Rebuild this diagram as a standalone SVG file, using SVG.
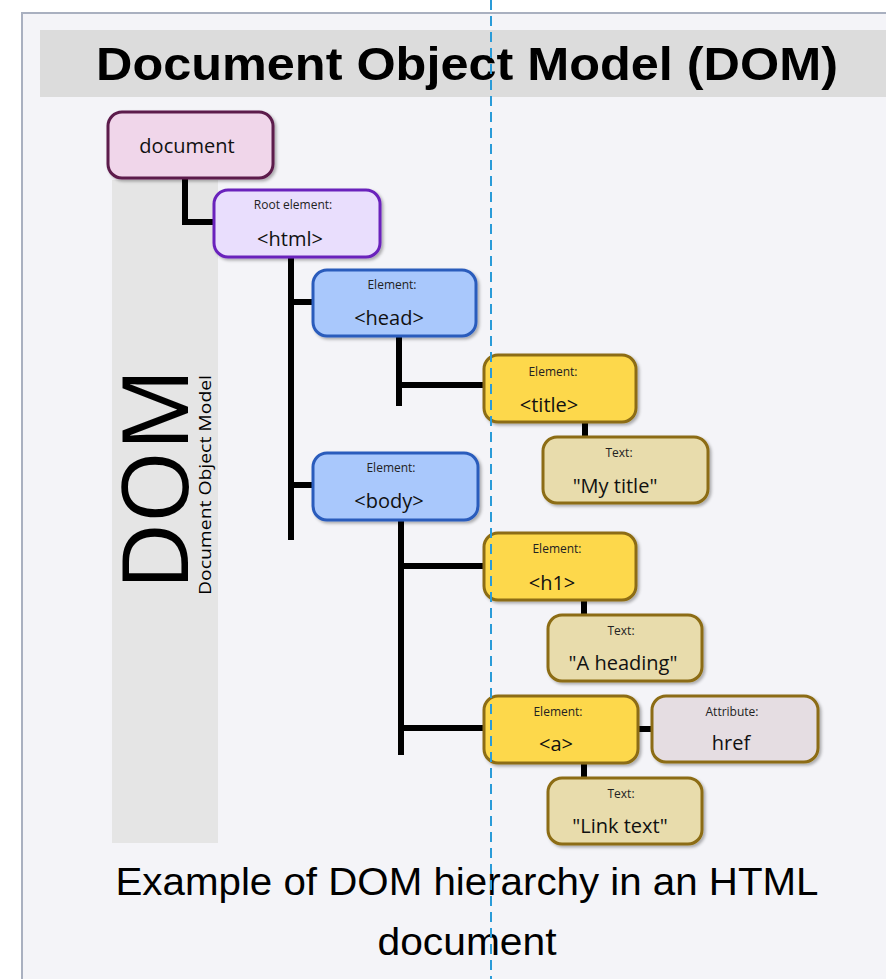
<svg xmlns="http://www.w3.org/2000/svg" width="886" height="979" viewBox="0 0 886 979">
  <defs>
    <filter id="shadow" x="-10%" y="-10%" width="130%" height="130%">
      <feDropShadow dx="2" dy="2" stdDeviation="1.5" flood-color="#000" flood-opacity="0.3"/>
    </filter>
  </defs>
  <style>
    .box { stroke-width: 3; filter: url(#shadow); }
    .doc { fill: #f0d6ea; stroke: #5c1a4c; }
    .root { fill: #e9defd; stroke: #6a24bc; }
    .el { fill: #a9c8fc; stroke: #2b5cbc; }
    .tag { fill: #fdd84c; stroke: #8c6c12; }
    .txt { fill: #e8dcac; stroke: #8c6c12; }
    .attr { fill: #e5dde2; stroke: #8c6c12; }
    .small { font-family: "Open Sans", "DejaVu Sans", sans-serif; font-size: 12px; fill: #222; text-anchor: middle; }
    .big { font-family: "Open Sans", "DejaVu Sans", sans-serif; font-size: 20px; fill: #111; text-anchor: middle; }
    .conn { stroke: #000; stroke-width: 6; fill: none; }
  </style>

  <!-- page background and panel -->
  <rect x="0" y="0" width="886" height="979" fill="#ffffff"/>
  <rect x="22" y="13" width="880" height="980" fill="#f4f4f8" stroke="#a9b0c0" stroke-width="2"/>

  <!-- title bar -->
  <rect x="40" y="30" width="860" height="67" fill="#dcdcdc"/>
  <text x="467" y="80" font-family="'Liberation Sans', Arial, sans-serif" font-weight="bold" font-size="46" text-anchor="middle" textLength="742" lengthAdjust="spacingAndGlyphs" fill="#000">Document Object Model (DOM)</text>

  <!-- vertical DOM label band -->
  <rect x="112" y="180" width="106" height="663" fill="#e5e5e5"/>
  <text transform="translate(188,479) rotate(-90)" font-family="'Open Sans', 'DejaVu Sans', sans-serif" font-size="92" text-anchor="middle" textLength="222" lengthAdjust="spacingAndGlyphs" fill="#000">DOM</text>
  <text transform="translate(211,485) rotate(-90)" font-family="'Open Sans', 'DejaVu Sans', sans-serif" font-size="16" text-anchor="middle" textLength="220" lengthAdjust="spacingAndGlyphs" fill="#000">Document Object Model</text>

  <!-- connectors -->
  <g id="connectors">
    <polyline class="conn" points="185,178 185,222 216,222"/>
    <line class="conn" x1="291" y1="257" x2="291" y2="540"/>
    <line class="conn" x1="288" y1="302" x2="315" y2="302"/>
    <line class="conn" x1="288" y1="485" x2="315" y2="485"/>
    <line class="conn" x1="399" y1="336" x2="399" y2="406"/>
    <line class="conn" x1="396" y1="385" x2="486" y2="385"/>
    <line class="conn" x1="401" y1="520" x2="401" y2="755"/>
    <line class="conn" x1="398" y1="566" x2="486" y2="566"/>
    <line class="conn" x1="398" y1="728" x2="486" y2="728"/>
    <line class="conn" x1="585" y1="422" x2="585" y2="439"/>
    <line class="conn" x1="584" y1="600" x2="584" y2="617"/>
    <line class="conn" x1="584" y1="763" x2="584" y2="780"/>
    <line class="conn" x1="638" y1="729" x2="654" y2="729"/>
  </g>

  <!-- nodes -->
  <g id="node-document">
    <rect class="box doc" x="108" y="112" width="165" height="66" rx="14"/>
    <text class="big" x="187" y="153" font-size="21">document</text>
  </g>
  <g id="node-html">
    <rect class="box root" x="214" y="190" width="166" height="67" rx="14"/>
    <text class="small" x="293" y="209">Root element:</text>
    <text class="big" x="290" y="246">&lt;html&gt;</text>
  </g>
  <g id="node-head">
    <rect class="box el" x="313" y="270" width="163" height="66" rx="14"/>
    <text class="small" x="392" y="289">Element:</text>
    <text class="big" x="389" y="325">&lt;head&gt;</text>
  </g>
  <g id="node-title">
    <rect class="box tag" x="484" y="355" width="152" height="67" rx="14"/>
    <text class="small" x="553" y="376">Element:</text>
    <text class="big" x="549" y="412">&lt;title&gt;</text>
  </g>
  <g id="node-title-text">
    <rect class="box txt" x="543" y="437" width="165" height="66" rx="14"/>
    <text class="small" x="619" y="457">Text:</text>
    <text class="big" x="615" y="493">"My title"</text>
  </g>
  <g id="node-body">
    <rect class="box el" x="313" y="453" width="165" height="67" rx="14"/>
    <text class="small" x="391" y="472">Element:</text>
    <text class="big" x="389" y="508">&lt;body&gt;</text>
  </g>
  <g id="node-h1">
    <rect class="box tag" x="484" y="533" width="152" height="67" rx="14"/>
    <text class="small" x="557" y="553">Element:</text>
    <text class="big" x="552" y="590">&lt;h1&gt;</text>
  </g>
  <g id="node-h1-text">
    <rect class="box txt" x="548" y="615" width="154" height="66" rx="14"/>
    <text class="small" x="621" y="635">Text:</text>
    <text class="big" x="623" y="670">"A heading"</text>
  </g>
  <g id="node-a">
    <rect class="box tag" x="484" y="696" width="154" height="67" rx="14"/>
    <text class="small" x="558" y="716">Element:</text>
    <text class="big" x="556" y="751">&lt;a&gt;</text>
  </g>
  <g id="node-href">
    <rect class="box attr" x="652" y="696" width="166" height="66" rx="14"/>
    <text class="small" x="732" y="716">Attribute:</text>
    <text class="big" x="731" y="750">href</text>
  </g>
  <g id="node-a-text">
    <rect class="box txt" x="548" y="778" width="154" height="66" rx="14"/>
    <text class="small" x="621" y="798">Text:</text>
    <text class="big" x="620" y="833">"Link text"</text>
  </g>

  <!-- caption -->
  <text x="467" y="895" font-family="'Liberation Sans', Arial, sans-serif" font-size="38" text-anchor="middle" textLength="703" lengthAdjust="spacingAndGlyphs" fill="#000">Example of DOM hierarchy in an HTML</text>
  <text x="467" y="955" font-family="'Liberation Sans', Arial, sans-serif" font-size="38" text-anchor="middle" textLength="179" lengthAdjust="spacingAndGlyphs" fill="#000">document</text>

  <!-- dashed guide line -->
  <line x1="491" y1="0" x2="491" y2="979" stroke="#2a9bd8" stroke-width="2" stroke-dasharray="10,6"/>
</svg>
